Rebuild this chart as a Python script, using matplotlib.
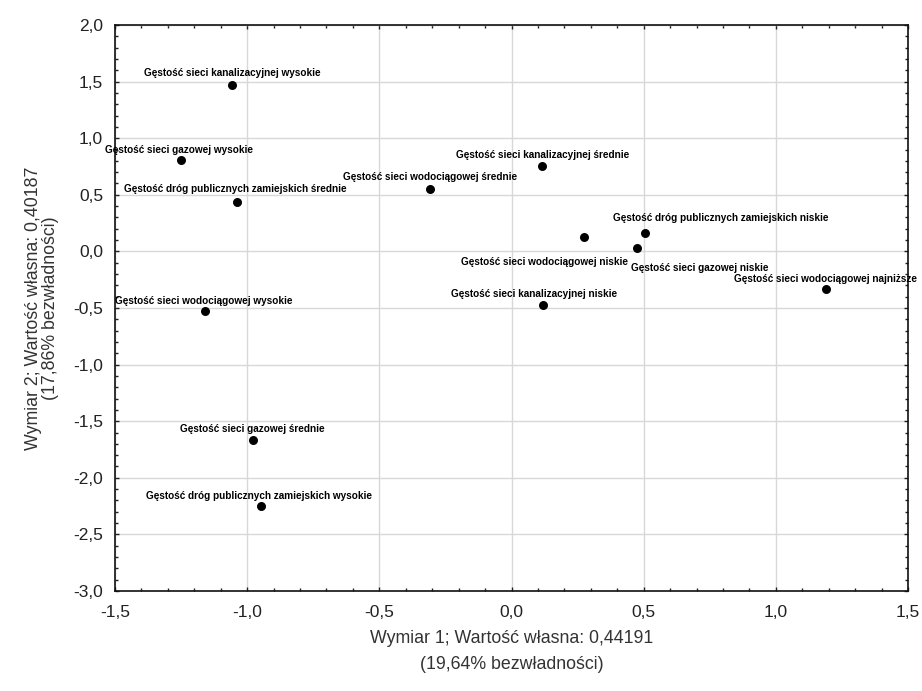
import matplotlib
matplotlib.use("Agg")
import matplotlib.pyplot as plt
from matplotlib.ticker import MultipleLocator, FuncFormatter

labels = [
    "Gęstość sieci kanalizacyjnej wysokie",
    "Gęstość sieci gazowej wysokie",
    "Gęstość dróg publicznych zamiejskich średnie",
    "Gęstość sieci kanalizacyjnej średnie",
    "Gęstość sieci wodociągowej średnie",
    "Gęstość sieci wodociągowej niskie",
    "Gęstość dróg publicznych zamiejskich niskie",
    "Gęstość sieci gazowej niskie",
    "Gęstość sieci wodociągowej najniższe",
    "Gęstość sieci kanalizacyjnej niskie",
    "Gęstość sieci wodociągowej wysokie",
    "Gęstość sieci gazowej średnie",
    "Gęstość dróg publicznych zamiejskich wysokie",
]
dim1 = [-1.057, -1.25, -1.04, 0.117, -0.31, 0.273, 0.504, 0.473, 1.19, 0.121, -1.16, -0.977, -0.947]
dim2 = [1.47, 0.81, 0.44, 0.75, 0.555, 0.13, 0.16, 0.03, -0.33, -0.475, -0.53, -1.67, -2.245]
# label offsets in pixels (dx, dy)
offsets = [(0, 12), (-2, 10), (-1, 13), (0, 12), (1, 12), (-39, -25), (76, 15), (63, -20),
           (-1, 10), (-9, 11), (-1, 10), (-1, 11), (-2, 10)]

fig = plt.figure(figsize=(9.22, 6.91), dpi=100)
ax = fig.add_axes([115 / 922, 1 - 591 / 691, 793 / 922, 566 / 691])

ax.scatter(dim1, dim2, s=42, color="black", zorder=3, linewidths=0)
for lab, x, y, (dx, dy) in zip(labels, dim1, dim2, offsets):
    ax.annotate(lab, (x, y), xytext=(dx, dy), textcoords="offset pixels",
                ha="center", va="center", fontsize=7.2, fontweight="bold",
                family="Liberation Sans", color="black", zorder=4,
                annotation_clip=False)

ax.set_xlim(-1.5, 1.5)
ax.set_ylim(-3.0, 2.0)
ax.xaxis.set_major_locator(MultipleLocator(0.5))
ax.xaxis.set_minor_locator(MultipleLocator(0.1))
ax.yaxis.set_major_locator(MultipleLocator(0.5))
ax.yaxis.set_minor_locator(MultipleLocator(0.1))
fmt = FuncFormatter(lambda v, p: f"{v:.1f}".replace(".", ",").replace("-0,0", "0,0"))
ax.xaxis.set_major_formatter(fmt)
ax.yaxis.set_major_formatter(fmt)
ax.tick_params(which="both", direction="in", top=True, right=True, colors="#222222",
               labelsize=12.5, labelcolor="#222222", width=1)
ax.tick_params(which="major", length=3)
ax.tick_params(which="minor", length=2.5)
ax.tick_params(axis="y", which="major", pad=8.5)
ax.tick_params(axis="x", which="major", pad=10)
for lbl in ax.get_xticklabels() + ax.get_yticklabels():
    lbl.set_family("Liberation Sans")
ax.grid(True, which="major", color="#d8d8d8", linewidth=1)
ax.set_axisbelow(True)
for s in ax.spines.values():
    s.set_color("#111111")
    s.set_linewidth(1.2)

ax.set_xlabel("Wymiar 1; Wartość własna: 0,44191\n(19,64% bezwładności)",
              fontsize=12.8, family="Liberation Sans", color="#333333", labelpad=7,
              linespacing=1.75)
ax.set_ylabel("Wymiar 2; Wartość własna: 0,40187\n(17,86% bezwładności)",
              fontsize=12.8, family="Liberation Sans", color="#333333", labelpad=10,
              linespacing=1.05)

fig.savefig("out.png", dpi=100)
